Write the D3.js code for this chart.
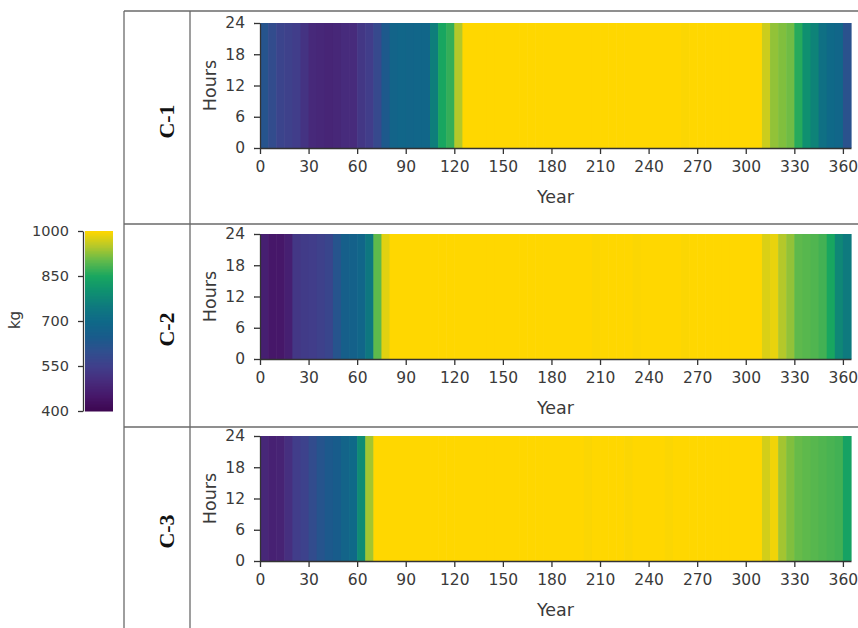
<!DOCTYPE html>
<html><head><meta charset="utf-8">
<script src="https://cdn.jsdelivr.net/npm/d3@7"></script>
<style>body{margin:0;background:#fff}</style>
</head><body><svg id="c" width="858" height="628"></svg>
<script>
// ---------- data ----------
const panelNames = ["C-1", "C-2", "C-3"];
const dayStarts = d3.range(0, 365, 5);          // 5-day bins: 0,5,...,360
const c1Values = [
  620,590,565,555,545,520,495,490,485,490,500,500,530,545,580,640,680,690,685,690,690,760,850,870,950,
  1000,1000,1000,1000,1000,1000,1000,1000,1000,1000,1000,1000,1000,1000,1000,1000,1000,1000,1000,1000,
  1000,1000,1000,1000,1000,1000,1000,997,1000,1000,1000,1000,1000,1000,1000,1000,1000,
  965,930,920,910,860,800,770,720,700,690,610
];
const c2Values = [
  470,450,450,470,530,540,545,555,570,620,660,670,690,740,900,980,
  1000,1000,1000,1000,1000,1000,1000,1000,1000,1000,1000,1000,1000,1000,1000,1000,1000,1000,1000,1000,
  1000,1000,1000,1000,1000,997,1000,1000,1000,1000,997,1000,1000,1000,1000,1000,997,1000,1000,1000,1000,1000,1000,1000,1000,1000,
  975,985,950,930,900,895,890,880,850,780,750
];
const c3Values = [
  490,475,480,510,545,560,590,620,640,650,680,700,790,940,
  1000,1000,1000,1000,1000,1000,1000,1000,1000,1000,1000,1000,1000,1000,1000,1000,1000,1000,1000,1000,
  1000,1000,1000,1000,1000,1000,997,1000,1000,1000,1000,997,1000,1000,1000,1000,997,1000,1000,1000,1000,1000,1000,1000,1000,1000,1000,1000,
  970,990,940,920,905,900,895,890,885,880,840
];
const panelValues = [c1Values, c2Values, c3Values];
const xTicks = [0,30,60,90,120,150,180,210,240,270,300,330,360];
const yTicks = [0,6,12,18,24];
const legendTicks = [400,550,700,850,1000];
const colorStops = [400,450,500,550,600,650,700,750,800,850,900,950,1000];
const colorRange = ["#3c0650","#461769","#472b7c","#403f8b","#2f4f8e","#185c8b","#0f6988",
                    "#0e7a7e","#0f9070","#18a660","#5eb94c","#b4c82a","#ffd700"];

// ---------- drawing ----------
const svg = d3.select("#c");
svg.append("rect").attr("width",858).attr("height",628).attr("fill","#fff");
const color = d3.scaleLinear().domain(colorStops).range(colorRange).clamp(true);
const FONT = "'DejaVu Sans', Verdana, sans-serif";
const txt = "#3a3a3a";

// table lines
const grid = svg.append("g").attr("stroke","#6a6a6a").attr("stroke-width",1.3);
[[124,11,858,11],[124,224,858,224],[124,427,858,427],[124,11,124,628],[190,11,190,628]]
  .forEach(l => grid.append("line").attr("x1",l[0]).attr("y1",l[1]).attr("x2",l[2]).attr("y2",l[3]));

const x = d3.scaleLinear().domain([0,365]).range([260,851]);
const tops = [23, 234, 436];
const H = 125;
const rowCenters = [(11+224)/2, (224+427)/2, (427+628)/2];

panelNames.forEach((name, i) => {
  const top = tops[i], bottom = top + H;
  const y = d3.scaleLinear().domain([0,24]).range([bottom, top]);
  const g = svg.append("g");
  g.selectAll("rect").data(dayStarts.map((d,j)=>({d, v: panelValues[i][j]})))
    .join("rect")
    .attr("x", e => x(e.d))
    .attr("width", e => x(Math.min(e.d+5,365)) - x(e.d) + 0.6)
    .attr("y", y(24)).attr("height", y(0)-y(24))
    .attr("fill", e => color(e.v));

  const xa = g.append("g").attr("transform",`translate(0,${bottom})`)
    .call(d3.axisBottom(x).tickValues(xTicks).tickSize(6).tickSizeOuter(0).tickPadding(7));
  const ya = g.append("g").attr("transform",`translate(${x(0)},0)`)
    .call(d3.axisLeft(y).tickValues(yTicks).tickSize(6).tickSizeOuter(0).tickPadding(9));
  [xa, ya].forEach(a => {
    a.selectAll("path,line").attr("stroke","#333").attr("stroke-width",1.3);
    a.selectAll("text").attr("fill",txt).style("font-family",FONT).style("font-size","15.5px");
  });

  g.append("text").attr("x",(x(0)+x(365))/2).attr("y",bottom+55)
    .attr("text-anchor","middle").attr("fill",txt)
    .style("font-family",FONT).style("font-size","17.5px").text("Year");
  g.append("text").attr("transform",`translate(210,${(top+bottom)/2}) rotate(-90)`)
    .attr("text-anchor","middle").attr("dominant-baseline","central").attr("fill",txt)
    .style("font-family",FONT).style("font-size","17.5px").text("Hours");
  svg.append("text").attr("transform",`translate(166,${rowCenters[i]+4}) rotate(-90)`)
    .attr("text-anchor","middle").attr("dominant-baseline","central").attr("fill","#111")
    .style("font-family","'Liberation Serif','Times New Roman',serif").style("font-weight","bold")
    .style("font-size","22px").text(name);
});

// colour bar
const yl = d3.scaleLinear().domain([400,1000]).range([411,231]);
const lg = svg.append("g");
lg.selectAll("rect").data(d3.range(400,1000,5)).join("rect")
  .attr("x",85).attr("width",28)
  .attr("y", v => yl(v+5)).attr("height", v => yl(v)-yl(v+5)+0.5)
  .attr("fill", v => color(v+2.5));
const la = lg.append("g").attr("transform","translate(83,0)")
  .call(d3.axisLeft(yl).tickValues(legendTicks).tickFormat(d3.format("d"))
        .tickSize(5).tickSizeOuter(0).tickPadding(9));
la.selectAll("path,line").attr("stroke","#333").attr("stroke-width",1.3);
la.selectAll("text").attr("fill",txt).style("font-family",FONT).style("font-size","14.5px");
lg.append("text").attr("transform","translate(15,320) rotate(-90)")
  .attr("text-anchor","middle").attr("dominant-baseline","central").attr("fill",txt)
  .style("font-family",FONT).style("font-size","15px").text("kg");
</script></body></html>
